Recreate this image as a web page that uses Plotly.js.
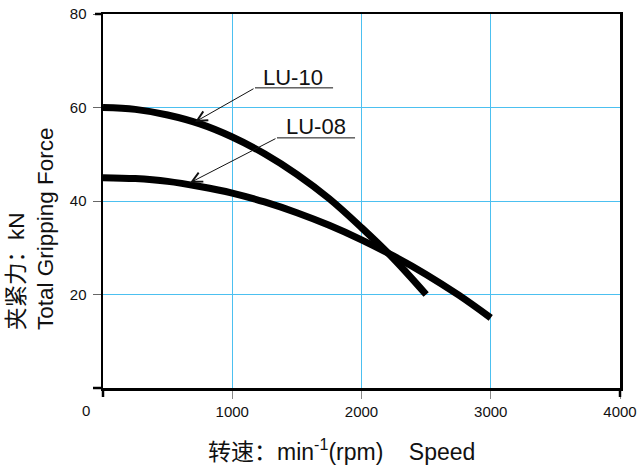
<!DOCTYPE html>
<html>
<head>
<meta charset="utf-8">
<script src="https://cdn.plot.ly/plotly-3.0.1.min.js"></script>
<style>html,body{margin:0;padding:0;background:#fff;}#chart{width:640px;height:468px;}</style>
</head>
<body>
<div id="chart"></div>
<script>
// Data
const speedLU10 = [0, 250, 500, 750, 1000, 1250, 1500, 1750, 2000, 2250, 2500];
const forceLU10 = [60, 59.6, 58.4, 56.5, 53.7, 50.1, 45.7, 40.5, 34.3, 27.6, 20];
const speedLU08 = [0, 250, 500, 750, 1000, 1250, 1500, 1750, 2000, 2250, 2500, 2750, 3000];
const forceLU08 = [45, 44.8, 44.2, 43.1, 41.7, 39.8, 37.5, 34.8, 31.7, 28.2, 24.3, 19.9, 15];
const seriesNames = ['LU-10', 'LU-08'];
const xTickVals = [1000, 2000, 3000, 4000];
const xTickText = ['1000', '2000', '3000', '4000'];
const yTickVals = [20, 40, 60, 80];
const yTickText = ['20', '40', '60', '80'];
// Label callouts: [label centre x, y], underline [x0, x1, y], arrow tip [x, y]
const labelPos = [[1470, 66.5], [1648, 56.0]];
const underline = [[1176, 1780, 64.2], [1346, 1950, 53.5]];
const arrowTip = [[712, 56.9], [673, 43.9]];

const latin = 'Liberation Sans, Arial, Helvetica, sans-serif';
const mixed = 'Liberation Sans, Arial, Noto Sans CJK SC, sans-serif';
const grid = '#4cc0f0';

const traces = [
  {x: speedLU10, y: forceLU10, name: seriesNames[0], mode: 'lines', line: {color: '#000', width: 7, shape: 'spline'}},
  {x: speedLU08, y: forceLU08, name: seriesNames[1], mode: 'lines', line: {color: '#000', width: 7, shape: 'spline'}}
];

const annotations = [];
const shapes = [];
for (let i = 0; i < 2; i++) {
  annotations.push({x: labelPos[i][0], y: labelPos[i][1], xref: 'x', yref: 'y', text: seriesNames[i],
    showarrow: false, font: {family: latin, size: 22, color: '#111'}});
  shapes.push({type: 'line', xref: 'x', yref: 'y', x0: underline[i][0], x1: underline[i][1],
    y0: underline[i][2], y1: underline[i][2], line: {color: '#111', width: 1}});
  annotations.push({x: arrowTip[i][0], y: arrowTip[i][1], xref: 'x', yref: 'y',
    ax: underline[i][0], ay: underline[i][2], axref: 'x', ayref: 'y', text: '',
    showarrow: true, arrowhead: 5, arrowsize: 2, arrowwidth: 1,
    arrowcolor: '#111', standoff: 0, startstandoff: 0});
}
// origin label
annotations.push({x: 0, y: 0, xref: 'paper', yref: 'paper', text: '0', showarrow: false,
  xanchor: 'center', yanchor: 'top', xshift: -17, yshift: -12, font: {family: latin, size: 15, color: '#111'}});
// axis titles
annotations.push({x: 0, y: 0.5, xref: 'paper', yref: 'paper', xanchor: 'center', yanchor: 'middle',
  xshift: -72, yshift: -28, textangle: -90, align: 'left', showarrow: false,
  text: '夹紧力：kN<br>Total Gripping Force', font: {family: mixed, size: 22.5, color: '#111'}});
annotations.push({x: 0.5, y: 0, xref: 'paper', yref: 'paper', xanchor: 'center', yanchor: 'middle',
  xshift: -20, yshift: -62, showarrow: false,
  text: '转速：min<sup>-1</sup>(rpm)\u00A0\u00A0\u00A0\u00A0Speed', font: {family: mixed, size: 23, color: '#111'}});

// axis line extensions
const ext = {color: '#000', width: 2.5};
shapes.push({type: 'line', xref: 'paper', yref: 'paper', xsizemode: 'pixel', xanchor: 0, x0: -10, x1: 0, y0: 0, y1: 0, line: ext});
shapes.push({type: 'line', xref: 'paper', yref: 'paper', xsizemode: 'pixel', xanchor: 0, x0: -8, x1: 0, y0: 1, y1: 1, line: ext});
shapes.push({type: 'line', xref: 'paper', yref: 'paper', ysizemode: 'pixel', yanchor: 0, y0: -9, y1: 0, x0: 0, x1: 0, line: ext});
shapes.push({type: 'line', xref: 'paper', yref: 'paper', ysizemode: 'pixel', yanchor: 0, y0: -9, y1: 0, x0: 1, x1: 1, line: ext});

const layout = {
  width: 640, height: 468,
  margin: {l: 103, r: 20, t: 14, b: 80},
  paper_bgcolor: '#fff', plot_bgcolor: '#fff',
  showlegend: false,
  xaxis: {range: [0, 4000], tickvals: xTickVals, ticktext: xTickText, showgrid: true, gridcolor: grid, gridwidth: 1,
    zeroline: false, showline: true, linecolor: '#000', linewidth: 2.5, mirror: true,
    ticks: 'outside', ticklen: 8, tickcolor: '#888', tickwidth: 1,
    tickfont: {family: latin, size: 15, color: '#111'}},
  yaxis: {range: [0, 80], tickvals: yTickVals, ticktext: yTickText, showgrid: true, gridcolor: grid, gridwidth: 1,
    zeroline: false, showline: true, linecolor: '#000', linewidth: 2.5, mirror: true,
    ticks: 'outside', ticklen: 8, tickcolor: '#666', tickwidth: 1, ticklabelstandoff: 3,
    tickfont: {family: latin, size: 15, color: '#111'}},
  annotations: annotations,
  shapes: shapes
};

Plotly.newPlot('chart', traces, layout, {displayModeBar: false, staticPlot: true});
</script>
</body>
</html>
